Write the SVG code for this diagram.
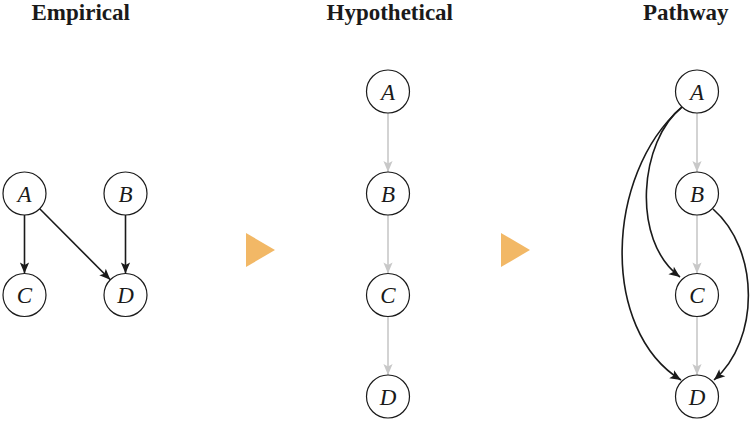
<svg xmlns="http://www.w3.org/2000/svg" width="753" height="421" viewBox="0 0 753 421">
<style>
.title{font-family:"Liberation Serif","Times New Roman",serif;font-weight:bold;font-size:23px;fill:#1a1a1a}
.node circle{fill:#fff;stroke:#1a1a1a;stroke-width:1.2}
.node text{font-family:"Liberation Serif","Times New Roman",serif;font-style:italic;font-size:23px;fill:#1a1a1a;text-anchor:middle}
.dark{fill:none;stroke:#1a1a1a;stroke-width:1.6;marker-end:url(#ahDark)}
.light{fill:none;stroke:#c8c8c8;stroke-width:1.6;marker-end:url(#ahLight)}
.tri{fill:#f2b866}
</style>
<defs>
<marker id="ahDark" markerUnits="userSpaceOnUse" viewBox="-12 -6 13 12" refX="0" refY="0" markerWidth="13" markerHeight="12" orient="auto">
<path d="M0,0 L-11,-4.6 L-8.5,0 L-11,4.6 Z" fill="#1a1a1a"/>
</marker>
<marker id="ahLight" markerUnits="userSpaceOnUse" viewBox="-12 -6 13 12" refX="0" refY="0" markerWidth="13" markerHeight="12" orient="auto">
<path d="M0,0 L-11,-4.6 L-8.5,0 L-11,4.6 Z" fill="#c8c8c8"/>
</marker>
</defs>

<text class="title" x="31.5" y="20">Empirical</text>
<text class="title" x="326.5" y="20">Hypothetical</text>
<text class="title" x="643" y="20">Pathway</text>

<polygon class="tri" points="246,233 275,250 246,267"/>
<polygon class="tri" points="501,233 530,250 501,267"/>

<g id="connectors">
<path class="dark" d="M24.5,215 L24.5,273.5"/>
<path class="dark" d="M39.7,208.7 L110.3,279.8"/>
<path class="dark" d="M125.5,215 L125.5,273.5"/>
<path class="light" d="M388,113 L388,172"/>
<path class="light" d="M388,215 L388,273.5"/>
<path class="light" d="M388,316.5 L388,375"/>
<path class="light" d="M697,113 L697,172"/>
<path class="light" d="M697,215 L697,273.5"/>
<path class="light" d="M697,316.5 L697,375"/>
<path class="dark" d="M682,107 C640,140 630,240 680,277"/>
<path class="dark" d="M681,108 C605,175 600,330 681,380"/>
<path class="dark" d="M713,209 C760,250 760,340 714,380"/>
</g>

<g id="emp-A" class="node"><circle cx="24.5" cy="193.5" r="21.5"/><text x="24.5" y="201.5">A</text></g>
<g id="emp-B" class="node"><circle cx="125.5" cy="193.5" r="21.5"/><text x="125.5" y="201.5">B</text></g>
<g id="emp-C" class="node"><circle cx="24.5" cy="295" r="21.5"/><text x="24.5" y="303">C</text></g>
<g id="emp-D" class="node"><circle cx="125.5" cy="295" r="21.5"/><text x="125.5" y="303">D</text></g>

<g id="hyp-A" class="node"><circle cx="388" cy="91.5" r="21.5"/><text x="388" y="99.5">A</text></g>
<g id="hyp-B" class="node"><circle cx="388" cy="193.5" r="21.5"/><text x="388" y="201.5">B</text></g>
<g id="hyp-C" class="node"><circle cx="388" cy="295" r="21.5"/><text x="388" y="303">C</text></g>
<g id="hyp-D" class="node"><circle cx="388" cy="396.5" r="21.5"/><text x="388" y="404.5">D</text></g>

<g id="path-A" class="node"><circle cx="697" cy="91.5" r="21.5"/><text x="697" y="99.5">A</text></g>
<g id="path-B" class="node"><circle cx="697" cy="193.5" r="21.5"/><text x="697" y="201.5">B</text></g>
<g id="path-C" class="node"><circle cx="697" cy="295" r="21.5"/><text x="697" y="303">C</text></g>
<g id="path-D" class="node"><circle cx="697" cy="396.5" r="21.5"/><text x="697" y="404.5">D</text></g>
</svg>
